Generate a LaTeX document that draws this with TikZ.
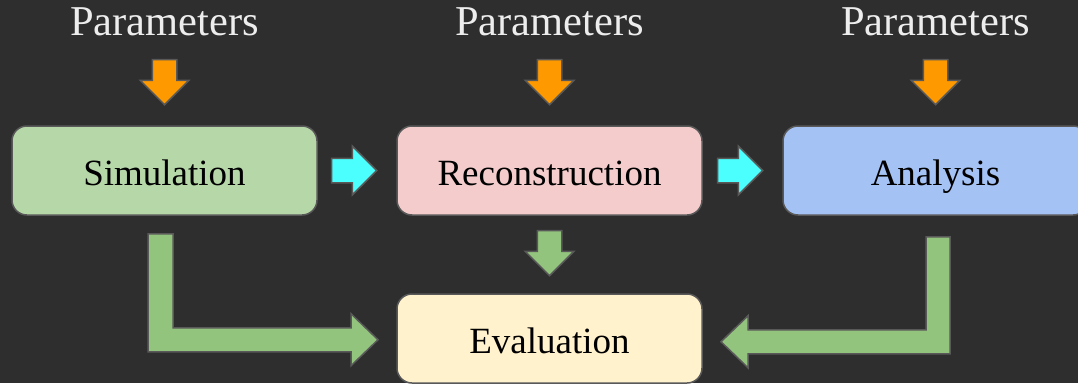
\documentclass[tikz,border=0pt]{standalone}
\usepackage{fontspec}
\setmainfont{Liberation Serif}
\newfontfamily\chainfont{Liberation Serif}
\usetikzlibrary{positioning,shapes.arrows}

\definecolor{bg}{HTML}{2E2E2E}
\definecolor{edge}{HTML}{595959}
\definecolor{simcol}{HTML}{B6D7A8}
\definecolor{recocol}{HTML}{F4CCCC}
\definecolor{anacol}{HTML}{A4C2F4}
\definecolor{evalcol}{HTML}{FFF2CC}
\definecolor{parcol}{HTML}{FF9900}
\definecolor{flowcol}{HTML}{4CFFFF}
\definecolor{evalarrow}{HTML}{93C47D}

\tikzset{
  stage/.style={draw=edge, line width=1.5pt, rounded corners=15pt,
    minimum width=305pt, minimum height=89pt, inner sep=0pt,
    text height=29pt, text depth=0pt,
    font=\chainfont\fontsize{37}{44}\selectfont},
  param/.style={anchor=base, text=white!93!black,
    font=\chainfont\fontsize{42.5}{50}\selectfont},
  fatarrow/.style={single arrow, draw=edge, line width=1.5pt, anchor=tip,
    inner xsep=0pt, inner ysep=11.5pt, single arrow head extend=12pt,
    minimum height=45pt},
  bentarrow/.style={fill=evalarrow, draw=edge, line width=1.5pt}
}

\begin{document}
\begin{tikzpicture}[x=1pt, y=-1pt]
  \fill[bg] (0,0) rectangle (1078,383);
  \useasboundingbox (0,0) rectangle (1078,383);

  % the three stages of the chain
  \node(sim) at (164.5,170.5) [stage, fill=simcol] {Simulation};
  \node(reco) [stage, fill=recocol, right=78.5pt of sim] {Reconstruction};
  \node(ana)  [stage, fill=anacol,  right=79.5pt of reco] {Analysis};
  \node(eval) [stage, fill=evalcol, below=77.5pt of reco] {Evaluation};

  % parameters feeding each stage
  \node(par_sim)  at ([yshift=90pt]sim.north)  [param] {Parameters};
  \node(par_reco) at ([yshift=90pt]reco.north) [param] {Parameters};
  \node(par_ana)  at ([yshift=90pt]ana.north)  [param] {Parameters};
  \node(in_sim)  at ([yshift=19.5pt]sim.north)  [fatarrow, fill=parcol, rotate=-90] {};
  \node(in_reco) at ([yshift=19.5pt]reco.north) [fatarrow, fill=parcol, rotate=-90] {};
  \node(in_ana)  at ([yshift=19.5pt]ana.north)  [fatarrow, fill=parcol, rotate=-90] {};

  % data flow between stages
  \node(sim_reco) at ([xshift=-18.5pt]reco.west) [fatarrow, fill=flowcol] {};
  \node(reco_ana) at ([xshift=-18.5pt]ana.west)  [fatarrow, fill=flowcol] {};
  \node(reco_eval) at ([yshift=16.5pt]eval.north) [fatarrow, fill=evalarrow, rotate=-90] {};

  % outputs into the evaluation
  \coordinate(sim_out) at ([xshift=-16.5pt, yshift=-18pt]sim.south);
  \coordinate(ana_out) at ([xshift=-9.5pt, yshift=-21pt]ana.south);
  \filldraw[bentarrow] (sim_out) -- ++(25,0) -- ++(0,94) -- ++(178,0) -- ++(0,-14)
    -- ++(27,26) -- ++(-27,26) -- ++(0,-14) -- ++(-203,0) -- cycle;
  \filldraw[bentarrow] (ana_out) -- ++(24,0) -- ++(0,117) -- ++(-202,0) -- ++(0,14)
    -- ++(-27,-26) -- ++(27,-26) -- ++(0,14) -- ++(178,0) -- cycle;
\end{tikzpicture}
\end{document}
